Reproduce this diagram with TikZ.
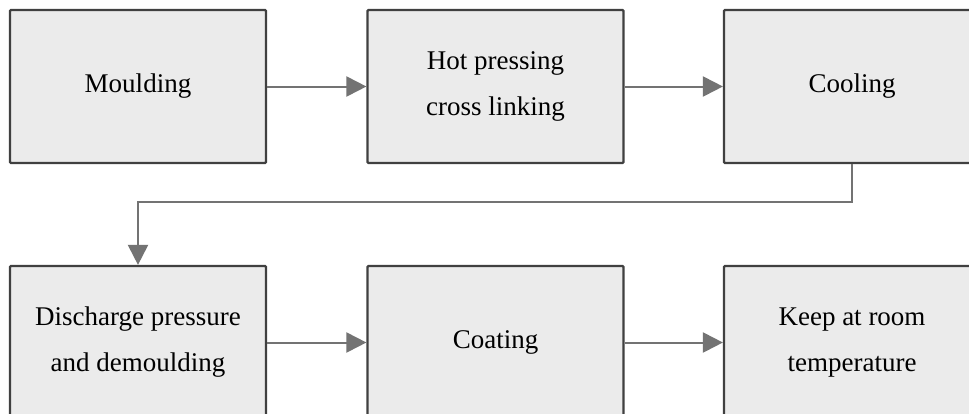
\documentclass[tikz,border=0pt]{standalone}
\usepackage{fontspec}
\setmainfont{Liberation Serif}
\usetikzlibrary{arrows.meta}
\begin{document}
\begin{tikzpicture}[x=1pt,y=-1pt,
  stepbox/.style={draw=black!75, line width=2.2pt, fill=black!8, rounded corners=1pt,
    minimum width=256pt, minimum height=153pt, inner sep=0pt, align=center,
    font=\fontsize{27}{46}\selectfont},
  flow/.style={draw=black!55, line width=2pt, -{Triangle[length=20pt,width=20pt]}}]
\clip (0,0) rectangle (969,413);
\fill[white] (0,0) rectangle (969,413);
\node[stepbox] (mould) at (138,86.5) {Moulding};
\node[stepbox] (press) at (495.5,86.5) {Hot pressing\\cross linking};
\node[stepbox] (cool)  at (852,86.5) {Cooling};
\node[stepbox] (dis)   at (138,342.5) {Discharge pressure\\and demoulding};
\node[stepbox] (coat)  at (495.5,342.5) {Coating};
\node[stepbox] (keep)  at (852,342.5) {Keep at room\\temperature};
\coordinate (bendA) at (852,202);
\coordinate (bendB) at (138,202);
\draw[flow] (mould) -- (press);
\draw[flow] (press) -- (cool);
\draw[flow] (cool.south) -- (bendA) -- (bendB) -- (dis.north);
\draw[flow] (dis) -- (coat);
\draw[flow] (coat) -- (keep);
\end{tikzpicture}
\end{document}
